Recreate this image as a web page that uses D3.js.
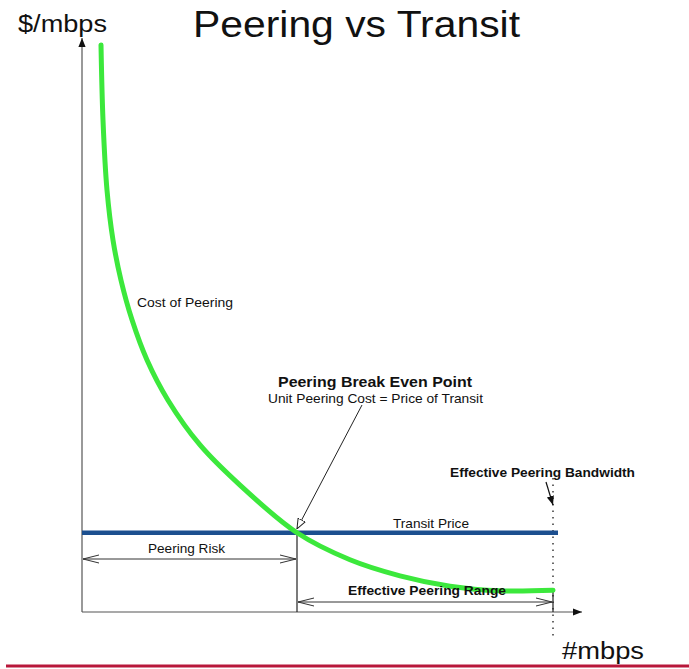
<!DOCTYPE html>
<html lang="en">
<head>
  <meta charset="UTF-8">
  <title>Peering vs Transit</title>
  <script src="https://d3js.org/d3.v7.min.js"></script>
  <style>
    body { margin: 0; background: #fff; }
    svg { display: block; font-family: "Liberation Sans", Arial, sans-serif; }
  </style>
</head>
<body>
  <svg width="689" height="669"></svg>

  <script>
    // cost of peering per mbps (x = #mbps, y = $/mbps, both 0..100)
    const peeringX = [3.8, 4.2, 5.0, 6.2, 7.8, 10.0, 13.0, 17.2, 23.6, 31.6, 43.0, 53.6, 63.6, 73.6, 83.6, 94.2];
    const peeringY = [98.8, 85.7, 73.5, 64.8, 57.8, 50.9, 43.9, 36.9, 29.1, 22.1, 13.8, 9.1, 6.3, 4.5, 3.7, 3.8];
    const transitPrice = 13.8;
    const breakEvenX = 43.0;
    const effectiveBandwidthX = 94.2;
    const transitEndX = 95.2;

    const svg = d3.select("svg");

    const xScale = d3.scaleLinear().domain([0, 100]).range([82, 582]);
    const yScale = d3.scaleLinear().domain([0, 100]).range([612, 38]);

    const defs = svg.append("defs");
    // filled triangle head
    defs.append("marker").attr("id", "solid")
      .attr("viewBox", "0 0 10 10").attr("refX", 10).attr("refY", 5)
      .attr("markerWidth", 9).attr("markerHeight", 9).attr("markerUnits", "userSpaceOnUse")
      .attr("orient", "auto-start-reverse")
      .append("path").attr("d", "M0,1 L10,5 L0,9 Z").attr("fill", "#111");
    // open chevron head for dimension lines
    defs.append("marker").attr("id", "chev")
      .attr("viewBox", "0 0 16 10").attr("refX", 16).attr("refY", 5)
      .attr("markerWidth", 16).attr("markerHeight", 10).attr("markerUnits", "userSpaceOnUse")
      .attr("orient", "auto-start-reverse")
      .append("path").attr("d", "M0,1 L16,5 L0,9").attr("fill", "none").attr("stroke", "#333").attr("stroke-width", 1);
    // open triangle for the break even pointer
    defs.append("marker").attr("id", "open")
      .attr("viewBox", "0 0 10 10").attr("refX", 10).attr("refY", 5)
      .attr("markerWidth", 10).attr("markerHeight", 10).attr("markerUnits", "userSpaceOnUse")
      .attr("orient", "auto")
      .append("path").attr("d", "M0,1 L10,5 L0,9 Z").attr("fill", "#fff").attr("stroke", "#222").attr("stroke-width", 1);

    // axes
    svg.append("line")
      .attr("x1", xScale(0)).attr("y1", yScale(0))
      .attr("x2", xScale(0)).attr("y2", yScale(100))
      .attr("stroke", "#555").attr("stroke-width", 1.2)
      .attr("marker-end", "url(#solid)");
    svg.append("line")
      .attr("x1", xScale(0)).attr("y1", yScale(0))
      .attr("x2", xScale(100)).attr("y2", yScale(0))
      .attr("stroke", "#555").attr("stroke-width", 1.2)
      .attr("marker-end", "url(#solid)");

    // dotted effective bandwidth line
    svg.append("line")
      .attr("x1", xScale(effectiveBandwidthX)).attr("y1", 478)
      .attr("x2", xScale(effectiveBandwidthX)).attr("y2", 636)
      .attr("stroke", "#444").attr("stroke-width", 1.6)
      .attr("stroke-dasharray", "1.5,5");

    // break even vertical and right end vertical
    svg.append("line")
      .attr("x1", xScale(breakEvenX)).attr("y1", yScale(transitPrice))
      .attr("x2", xScale(breakEvenX)).attr("y2", yScale(0))
      .attr("stroke", "#222").attr("stroke-width", 1.2);
    svg.append("line")
      .attr("x1", xScale(effectiveBandwidthX)).attr("y1", yScale(peeringY[peeringY.length - 1]))
      .attr("x2", xScale(effectiveBandwidthX)).attr("y2", yScale(0))
      .attr("stroke", "#222").attr("stroke-width", 1.2);

    // dimension arrows
    const riskY = 559, rangeY = 602;
    svg.append("line")
      .attr("x1", xScale(0) + 1).attr("y1", riskY)
      .attr("x2", xScale(breakEvenX) - 1).attr("y2", riskY)
      .attr("stroke", "#333").attr("stroke-width", 1)
      .attr("marker-start", "url(#chev)").attr("marker-end", "url(#chev)");
    svg.append("line")
      .attr("x1", xScale(breakEvenX) + 1).attr("y1", rangeY)
      .attr("x2", xScale(effectiveBandwidthX) - 1).attr("y2", rangeY)
      .attr("stroke", "#333").attr("stroke-width", 1)
      .attr("marker-start", "url(#chev)").attr("marker-end", "url(#chev)");

    // transit price
    svg.append("line")
      .attr("x1", xScale(0)).attr("y1", yScale(transitPrice))
      .attr("x2", xScale(transitEndX)).attr("y2", yScale(transitPrice))
      .attr("stroke", "#1c4f8f").attr("stroke-width", 4.5);

    // cost of peering curve
    const pts = peeringX.map((x, i) => [x, peeringY[i]]);
    const line = d3.line()
      .x(d => xScale(d[0]))
      .y(d => yScale(d[1]))
      .curve(d3.curveCatmullRom.alpha(0.5));
    svg.append("path")
      .datum(pts)
      .attr("fill", "none")
      .attr("stroke", "#3ce83c")
      .attr("stroke-width", 5)
      .attr("stroke-linecap", "round")
      .attr("d", line);

    // break even pointer
    svg.append("line")
      .attr("x1", 362).attr("y1", 405)
      .attr("x2", xScale(breakEvenX)).attr("y2", yScale(transitPrice) - 4)
      .attr("stroke", "#222").attr("stroke-width", 1)
      .attr("marker-end", "url(#open)");

    // effective bandwidth pointer
    svg.append("line")
      .attr("x1", 546).attr("y1", 482)
      .attr("x2", xScale(effectiveBandwidthX)).attr("y2", 505)
      .attr("stroke", "#111").attr("stroke-width", 1.2)
      .attr("marker-end", "url(#solid)");

    // texts
    function label(x, y, txt, size, opts = {}) {
      const t = svg.append("text")
        .attr("x", x).attr("y", y)
        .attr("font-size", size)
        .attr("fill", opts.fill || "#111")
        .attr("text-anchor", opts.anchor || "start")
        .attr("font-weight", opts.bold ? "bold" : "normal")
        .text(txt);
      if (opts.len) t.attr("textLength", opts.len).attr("lengthAdjust", "spacingAndGlyphs");
      return t;
    }

    label(193, 37, "Peering vs Transit", 37, { len: 327 });
    label(18, 32, "$/mbps", 23, { len: 89 });
    label(562, 659, "#mbps", 23, { len: 82 });

    label(137, 307, "Cost of Peering", 13, { len: 96 });
    label(278, 387, "Peering Break Even Point", 14, { bold: true, len: 194 });
    label(268, 403, "Unit Peering Cost = Price of Transit", 13, { len: 215 });
    label(393, 528, "Transit Price", 13, { len: 76 });
    label(450, 477, "Effective Peering Bandwidth", 13, { bold: true, len: 185 });
    label(148, 553, "Peering Risk", 13, { len: 77 });
    label(348, 595, "Effective Peering Range", 13, { bold: true, len: 158 });

    // red rule at the bottom
    svg.append("line")
      .attr("x1", 6).attr("y1", 666)
      .attr("x2", 689).attr("y2", 666)
      .attr("stroke", "#b8173a").attr("stroke-width", 3);
  </script>
</body>
</html>
